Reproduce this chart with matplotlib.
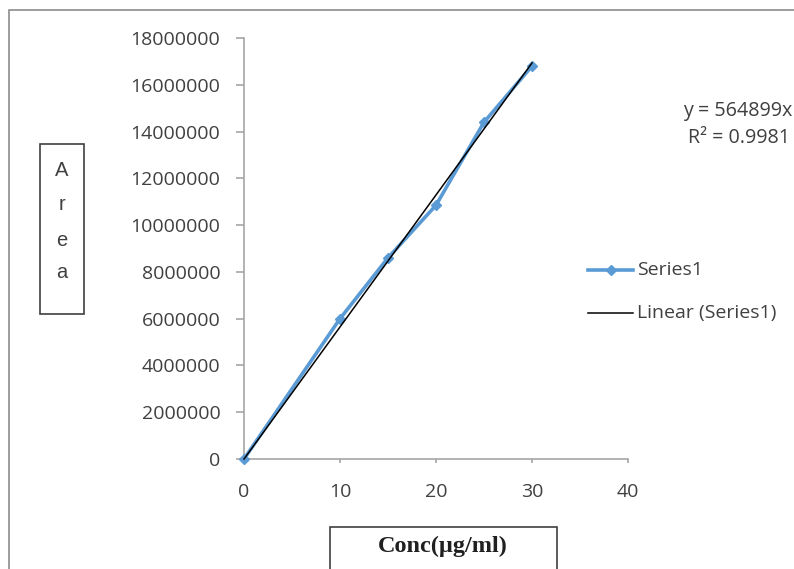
import numpy as np
import matplotlib
matplotlib.use("Agg")
import matplotlib.pyplot as plt
from matplotlib.patches import Rectangle
from matplotlib.lines import Line2D

# ---- data ----
conc = [0, 10, 15, 20, 25, 30]
area = [0, 6000000, 8600000, 10850000, 14400000, 16800000]
x_ticks = [0, 10, 20, 30, 40]
y_ticks = [0, 2000000, 4000000, 6000000, 8000000, 10000000,
           12000000, 14000000, 16000000, 18000000]
series_name = "Series1"
trend_name = "Linear (Series1)"
eq_text = "y = 564899x"
r2_text = "R\u00b2 = 0.9981"
x_label = "Conc(\u00b5g/ml)"
y_label = "Area"

W, H = 794, 569
fig = plt.figure(figsize=(W / 100, H / 100), dpi=100)
plt.rcParams['font.family'] = ['Open Sans', 'DejaVu Sans']

def fx(px):
    return px / W

def fy(py):
    return 1 - py / H

ax = fig.add_axes([fx(244), fy(459), fx(628) - fx(244), fy(38) - fy(459)])
ax.set_xlim(0, 40)
ax.set_ylim(0, 18000000)
ax.set_xticks(x_ticks)
ax.set_yticks(y_ticks)
ax.set_xticklabels([str(v) for v in x_ticks])
ax.set_yticklabels([str(v) for v in y_ticks])
for s in ["top", "right"]:
    ax.spines[s].set_visible(False)
axcol = "#a6a6a6"
for s in ["left", "bottom"]:
    ax.spines[s].set_color(axcol)
    ax.spines[s].set_linewidth(1.2)
ax.tick_params(axis="y", direction="out", length=6, width=1.2, color=axcol,
               pad=11, labelsize=14, labelcolor="#404040")
ax.tick_params(axis="x", direction="out", length=3, width=1.2, color=axcol,
               pad=14, labelsize=14, labelcolor="#404040")

blue = "#5b9bd5"
xa = np.array(conc, dtype=float)
ya = np.array(area, dtype=float)
slope = (xa * ya).sum() / (xa * xa).sum()
xt = np.array([0, 30])
ax.plot(xa, ya, color=blue, lw=2.6, marker="D", ms=5.5, clip_on=False, zorder=3)
ax.plot(xt, slope * xt, color="black", lw=1.1, zorder=4, clip_on=False)

# outer chart border
fig.add_artist(Rectangle((fx(9), fy(600)), fx(900) - fx(9), fy(10) - fy(600),
                         transform=fig.transFigure, fill=False,
                         edgecolor="#8c8c8c", lw=1.2))

# equation text
fig.text(fx(683), fy(111), eq_text, fontsize=14.2, color="#404040",
         ha="left", va="center")
fig.text(fx(688), fy(138), r2_text, fontsize=14.2, color="#404040",
         ha="left", va="center")

# legend (manual)
ly1, ly2 = 270, 313
fig.add_artist(Line2D([fx(588), fx(633)], [fy(ly1), fy(ly1)], color=blue, lw=2.6,
                      transform=fig.transFigure))
fig.add_artist(Line2D([fx(610.5)], [fy(ly1)], color=blue, marker="D", ms=5.5,
                      transform=fig.transFigure))
fig.add_artist(Line2D([fx(588), fx(633)], [fy(ly2), fy(ly2)], color="black", lw=1.1,
                      transform=fig.transFigure))
fig.text(fx(637), fy(ly1), series_name, fontsize=14, color="#404040",
         ha="left", va="center")
fig.text(fx(637), fy(ly2), trend_name, fontsize=14, color="#404040",
         ha="left", va="center")

# y label box
fig.add_artist(Rectangle((fx(40), fy(314)), fx(84) - fx(40), fy(144) - fy(314),
                         transform=fig.transFigure, fill=False,
                         edgecolor="#404040", lw=1.2))
letter_y = [170, 204, 240, 273]
for ch, yy in zip(y_label, letter_y):
    fig.text(fx(62), fy(yy), ch, fontsize=14.5, color="#404040",
             family="Liberation Sans", ha="center", va="center")

# x label box
fig.add_artist(Rectangle((fx(330), fy(600)), fx(557) - fx(330), fy(527) - fy(600),
                         transform=fig.transFigure, fill=False,
                         edgecolor="#404040", lw=1.2))
fig.text(fx(443), fy(546), x_label, fontsize=17.5, color="#202020",
         family="Liberation Serif", fontweight="bold", ha="center", va="center")

fig.savefig("out.png", dpi=100)
